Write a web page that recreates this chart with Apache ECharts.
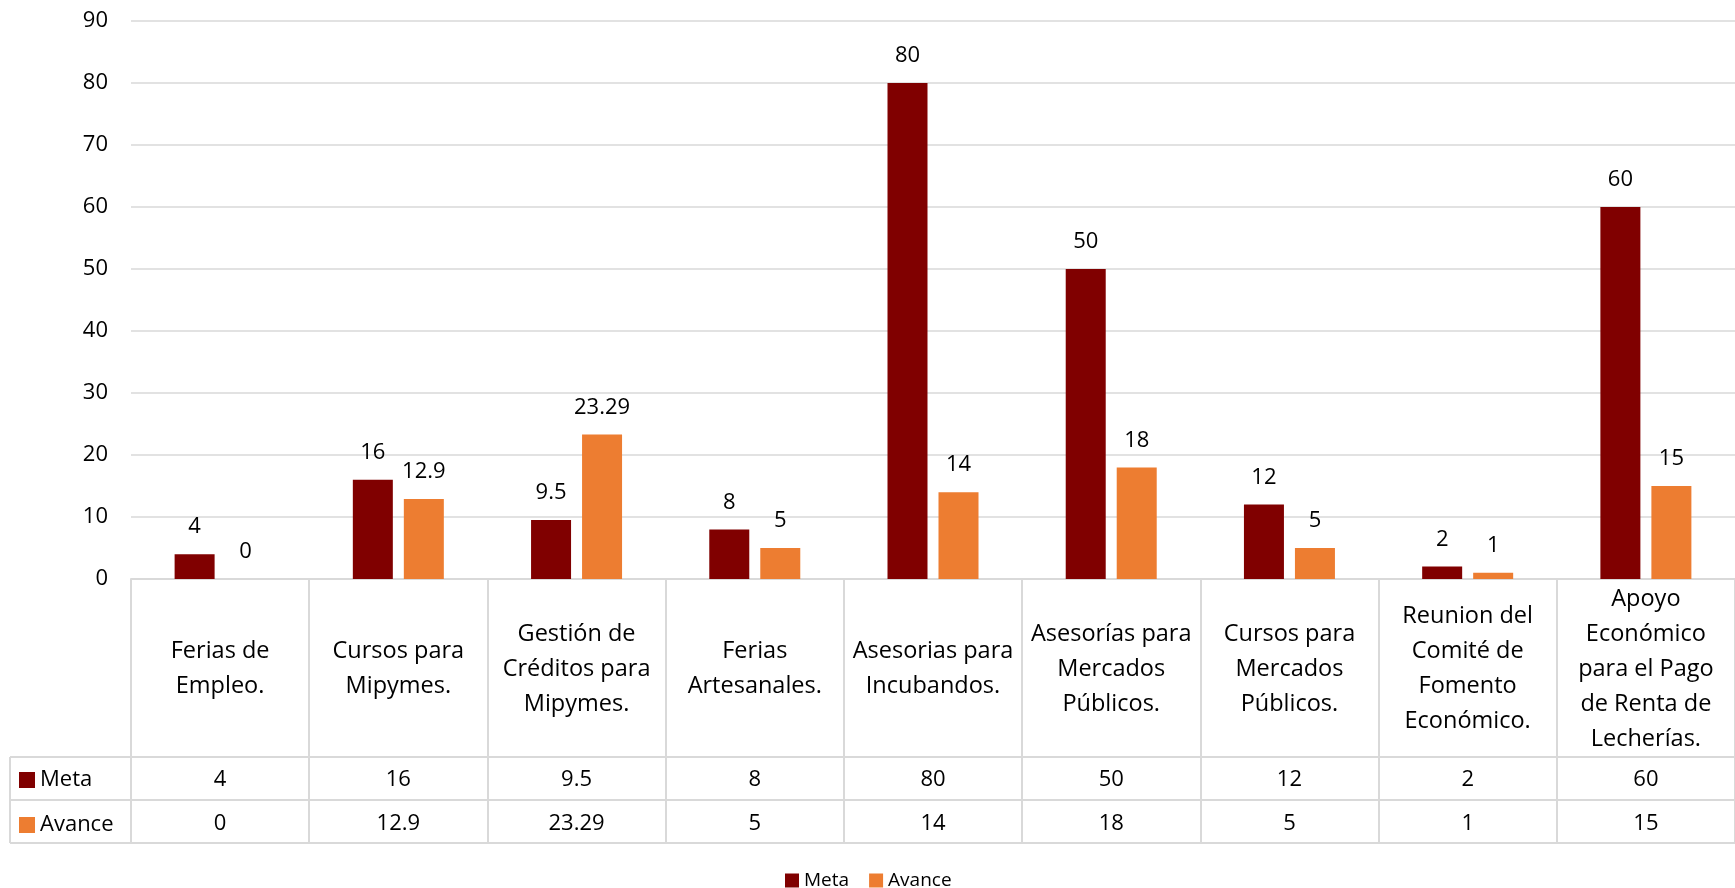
<!DOCTYPE html>
<html>
<head>
<meta charset="utf-8">
<script src="https://cdn.jsdelivr.net/npm/echarts@6/dist/echarts.min.js"></script>
<style>
  html, body { margin: 0; padding: 0; background: #fff; }
  #chart { width: 1735px; height: 888px; }
</style>
</head>
<body>
<div id="chart"></div>
<script>
const categories = [
  "Ferias de\nEmpleo.",
  "Cursos para\nMipymes.",
  "Gestión de\nCréditos para\nMipymes.",
  "Ferias\nArtesanales.",
  "Asesorias para\nIncubandos.",
  "Asesorías para\nMercados\nPúblicos.",
  "Cursos para\nMercados\nPúblicos.",
  "Reunion del\nComité de\nFomento\nEconómico.",
  "Apoyo\nEconómico\npara el Pago\nde Renta de\nLecherías."
];
const meta = [4, 16, 9.5, 8, 80, 50, 12, 2, 60];
const avance = [0, 12.9, 23.29, 5, 14, 18, 5, 1, 15];
const yTicks = { min: 0, max: 90, interval: 10 };

const FONT = "Open Sans";
const GRID_LEFT = 131, GRID_TOP = 21, GRID_H = 558, GRID_W = 1617;
const HEAD_H = 178, ROW_H = 43;
const LINE = "#d9d9d9";

const chart = echarts.init(document.getElementById("chart"));

// bottom of plot area = top of data table
const tableTop = GRID_TOP + GRID_H;
const rowLines = [HEAD_H, HEAD_H + ROW_H, HEAD_H + 2 * ROW_H];

chart.setOption({
  animation: false,
  textStyle: { fontFamily: FONT, color: "#000" },
  grid: { left: GRID_LEFT, top: GRID_TOP, width: GRID_W, height: GRID_H },
  legend: [
    {
      data: ["Meta", "Avance"],
      left: 785, top: 871, padding: 0,
      itemWidth: 14, itemHeight: 14, itemGap: 20,
      icon: "rect",
      textStyle: { fontFamily: FONT, fontSize: 19, color: "#000" }
    },
    {
      data: ["Meta", "Avance"],
      orient: "vertical",
      left: 19, top: tableTop + HEAD_H + 12, padding: 0,
      itemWidth: 16, itemHeight: 16, itemGap: 23,
      icon: "rect",
      textStyle: { fontFamily: FONT, fontSize: 22, color: "#000" }
    }
  ],
  xAxis: [
    {
      type: "category",
      data: categories,
      axisLine: { lineStyle: { color: LINE, width: 2 } },
      axisTick: { show: true, length: HEAD_H + 2 * ROW_H, lineStyle: { color: LINE, width: 2 } },
      axisLabel: {
        interval: 0, margin: HEAD_H / 2 + 1, verticalAlign: "middle",
        fontFamily: FONT, fontSize: 23.5, lineHeight: 35, color: "#000", align: "center"
      }
    },
    {
      type: "category", data: categories, position: "bottom", offset: HEAD_H,
      axisLine: { show: false }, axisTick: { show: false },
      axisLabel: {
        interval: 0, margin: ROW_H / 2 + 1, verticalAlign: "middle",
        fontFamily: FONT, fontSize: 22, color: "#000",
        formatter: (v, i) => String(meta[i])
      }
    },
    {
      type: "category", data: categories, position: "bottom", offset: HEAD_H + ROW_H,
      axisLine: { show: false }, axisTick: { show: false },
      axisLabel: {
        interval: 0, margin: ROW_H / 2 + 2, verticalAlign: "middle",
        fontFamily: FONT, fontSize: 22, color: "#000",
        formatter: (v, i) => String(avance[i])
      }
    }
  ],
  yAxis: {
    type: "value",
    min: yTicks.min, max: yTicks.max, interval: yTicks.interval,
    axisLine: { show: false }, axisTick: { show: false },
    axisLabel: { margin: 23, fontFamily: FONT, fontSize: 22, color: "#000" },
    splitLine: { lineStyle: { color: LINE, width: 1.5 } }
  },
  series: [
    {
      name: "Meta", type: "bar", data: meta,
      barWidth: 40, barGap: "27.5%",
      itemStyle: { color: "#800000" },
      label: { show: true, position: "top", distance: 16, fontFamily: FONT, fontSize: 22, color: "#000" }
    },
    {
      name: "Avance", type: "bar", data: avance,
      barWidth: 40,
      itemStyle: { color: "#ed7d31" },
      label: { show: true, position: "top", distance: 16, fontFamily: FONT, fontSize: 22, color: "#000" }
    }
  ],
  // table rules that the axes can't draw (left column + row separators)
  graphic: rowLines.map(d => ({
    type: "line",
    shape: { x1: 10, y1: tableTop + d, x2: GRID_LEFT + GRID_W, y2: tableTop + d },
    style: { stroke: LINE, lineWidth: 2 }
  })).concat([{
    type: "line",
    shape: { x1: 10, y1: tableTop + HEAD_H, x2: 10, y2: tableTop + HEAD_H + 2 * ROW_H },
    style: { stroke: LINE, lineWidth: 2 }
  }])
});
</script>
</body>
</html>
